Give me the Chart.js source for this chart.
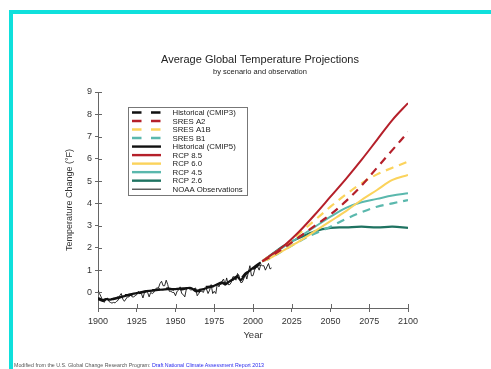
<!DOCTYPE html>
<html><head><meta charset="utf-8">
<script src="https://cdn.jsdelivr.net/npm/chart.js@4/dist/chart.umd.min.js"></script>
<style>
html,body{margin:0;padding:0;background:#fff;width:491px;height:369px;overflow:hidden}
#frame{position:absolute;left:9px;top:10px;width:490px;height:370px;border-top:4px solid #0fe0dc;border-left:4px solid #0fe0dc;box-sizing:border-box}
#wrap{position:absolute;left:0;top:0;width:491px;height:369px}
#note{position:absolute;left:14px;top:362px;font:8px 'Liberation Sans',Arial,sans-serif;color:#555;white-space:nowrap;transform:scale(0.66);transform-origin:left top}
#note span{color:#2a2aee}
</style></head>
<body>
<div id="frame"></div>
<div id="wrap"><canvas id="c" width="491" height="369"></canvas></div>
<div id="note">Modified from the U.S. Global Change Research Program: <span>Draft National Climate Assessment Report 2013</span></div>
<script>
// ---- data ----
const titleText = 'Average Global Temperature Projections';
const subtitleText = 'by scenario and observation';
const histYears = [1900,1903,1905,1908,1910,1913,1915,1918,1920,1925,1930,1935,1940,1945,1950,1955,1960,1963,1965,1968,1970,1975,1980,1982,1985,1990,1992,1995,2000,2005];
const cmip5Hist = [-0.25,-0.35,-0.3,-0.32,-0.28,-0.25,-0.2,-0.15,-0.1,-0.03,0.05,0.08,0.12,0.15,0.15,0.18,0.2,0.05,0.1,0.15,0.2,0.3,0.45,0.35,0.5,0.7,0.55,0.8,1.1,1.35];
const cmip3Hist = [-0.3,-0.38,-0.33,-0.3,-0.3,-0.22,-0.18,-0.12,-0.12,-0.05,0.02,0.1,0.14,0.18,0.12,0.15,0.22,0.1,0.05,0.18,0.25,0.28,0.42,0.4,0.45,0.75,0.6,0.85,1.05,1.3];
const noaaStart = 1900;
const noaaObs = [0.1,-0.05,-0.2,-0.35,-0.45,-0.3,-0.25,-0.4,-0.45,-0.48,-0.45,-0.47,-0.4,-0.35,-0.15,-0.05,-0.3,-0.4,-0.3,-0.2,
 -0.2,-0.1,-0.2,-0.2,-0.15,-0.1,0.05,-0.05,-0.05,-0.25,0.0,0.05,0.0,-0.2,0.0,-0.05,0.0,0.15,0.2,0.2,
 0.4,0.5,0.3,0.3,0.55,0.35,0.05,0.05,0.0,0.0,-0.15,0.05,0.1,0.25,-0.05,-0.1,-0.2,0.15,0.2,0.15,
 0.1,0.15,0.15,0.2,-0.15,-0.05,0.05,0.05,0.0,0.2,0.15,-0.05,0.1,0.35,-0.05,0.05,-0.05,0.4,0.25,0.4,
 0.5,0.6,0.35,0.65,0.35,0.35,0.45,0.7,0.7,0.55,0.85,0.75,0.45,0.45,0.6,0.85,0.6,0.9,1.2,0.75,
 0.75,1.0,1.15,1.15,1.0,1.25,1.2,1.2,1.0,1.15,1.3,1.05,1.1];
const projYears = [2006,2010,2020,2030,2040,2050,2060,2070,2080,2090,2100];
const sresA2  = [1.4,1.55,2.0,2.5,3.0,3.5,4.1,4.8,5.6,6.4,7.2];
const sresA1B = [1.4,1.6,2.05,2.65,3.25,3.85,4.4,4.9,5.3,5.6,5.87];
const sresB1  = [1.4,1.5,1.9,2.3,2.65,2.95,3.3,3.6,3.85,4.0,4.15];
const rcp85   = [1.4,1.6,2.1,2.75,3.5,4.3,5.1,5.95,6.85,7.75,8.5];
const rcp60   = [1.4,1.5,1.9,2.3,2.75,3.2,3.65,4.15,4.6,5.05,5.27];
const rcp45   = [1.4,1.6,2.05,2.5,2.95,3.4,3.8,4.05,4.2,4.35,4.45];
const rcp26   = [1.4,1.6,2.1,2.45,2.75,2.9,2.92,2.95,2.92,2.95,2.9];
const xTicks = [1900,1925,1950,1975,2000,2025,2050,2075,2100];
const yTicks = [0,1,2,3,4,5,6,7,8,9];

const RED='#b5202a', YEL='#fbd35c', TEAL='#5ab8ad', DTEAL='#1f7361', BLK='#111';
const pts = (xs,ys)=>ys.map((v,i)=>({x:xs[i],y:v}));
const noaaPts = noaaObs.map((v,i)=>({x:noaaStart+i,y:v}));

const DASH=[8,6];
const datasets = [
 {label:'RCP 8.5', data:pts(projYears,rcp85), borderColor:RED, borderWidth:2, tension:0.35},
 {label:'SRES A2', data:pts(projYears,sresA2), borderColor:RED, borderWidth:2.2, borderDash:DASH, tension:0.35},
 {label:'SRES A1B', data:pts(projYears,sresA1B), borderColor:YEL, borderWidth:2.2, borderDash:DASH, tension:0.35},
 {label:'RCP 6.0', data:pts(projYears,rcp60), borderColor:YEL, borderWidth:2, tension:0.35},
 {label:'RCP 4.5', data:pts(projYears,rcp45), borderColor:TEAL, borderWidth:2, tension:0.35},
 {label:'SRES B1', data:pts(projYears,sresB1), borderColor:TEAL, borderWidth:2.2, borderDash:DASH, tension:0.35},
 {label:'RCP 2.6', data:pts(projYears,rcp26), borderColor:DTEAL, borderWidth:2.2, tension:0.35},
 {label:'NOAA Observations', data:noaaPts, borderColor:BLK, borderWidth:0.9, tension:0},
 {label:'Historical (CMIP5)', data:pts(histYears,cmip5Hist), borderColor:BLK, borderWidth:2.2, tension:0.2},
 {label:'Historical (CMIP3)', data:pts(histYears,cmip3Hist), borderColor:BLK, borderWidth:2.2, borderDash:DASH, tension:0.2},
];
datasets.forEach(d=>{d.pointRadius=0;d.fill=false;d.backgroundColor=d.borderColor;});

const legendOrder = ['Historical (CMIP3)','SRES A2','SRES A1B','SRES B1','Historical (CMIP5)','RCP 8.5','RCP 6.0','RCP 4.5','RCP 2.6','NOAA Observations'];

const FONT="'Liberation Sans', Arial, sans-serif";
const titles = {id:'titles', afterDraw(chart){
  const ctx=chart.ctx; ctx.save();
  ctx.fillStyle='#222'; ctx.textAlign='center'; ctx.textBaseline='middle';
  ctx.font='11px '+FONT; ctx.fillText(titleText,260,60);
  ctx.font='7.5px '+FONT; ctx.fillText(subtitleText,260,72);
  ctx.restore();
}};
const boxLegend = {id:'boxLegend', afterDatasetsDraw(chart){
  const ctx=chart.ctx; const x0=128, y0=107, w=119, h=88, row=8.52, first=112.5;
  ctx.save();
  ctx.fillStyle='#fff'; ctx.fillRect(x0,y0,w,h);
  ctx.strokeStyle='#777'; ctx.lineWidth=1; ctx.strokeRect(x0+0.5,y0+0.5,w,h);
  ctx.font='7.8px '+FONT; ctx.textBaseline='middle'; ctx.textAlign='left';
  legendOrder.forEach((lab,i)=>{
    const d=chart.data.datasets.find(s=>s.label===lab);
    const y=first+i*row;
    ctx.strokeStyle=d.borderColor; ctx.lineWidth=d.borderWidth<1?1:2.4;
    ctx.setLineDash(d.borderDash?[9.5,9.5]:[]);
    ctx.beginPath(); ctx.moveTo(132,y); ctx.lineTo(161,y); ctx.stroke();
    ctx.setLineDash([]);
    ctx.fillStyle='#222'; ctx.fillText(lab,172.5,y+0.5);
  });
  ctx.restore();
}};
const innerTicks = {id:'innerTicks', afterDraw(chart){
  const ctx=chart.ctx, xs=chart.scales.x, ys=chart.scales.y;
  ctx.save(); ctx.strokeStyle='#666'; ctx.lineWidth=1;
  xs.ticks.forEach(t=>{const p=Math.round(xs.getPixelForValue(t.value))+0.5;ctx.beginPath();ctx.moveTo(p,ys.bottom);ctx.lineTo(p,ys.bottom-4);ctx.stroke();});
  ys.ticks.forEach(t=>{const p=Math.round(ys.getPixelForValue(t.value))+0.5;ctx.beginPath();ctx.moveTo(xs.left,p);ctx.lineTo(xs.left+4,p);ctx.stroke();});
  ctx.restore();
}};

new Chart(document.getElementById('c'),{
  type:'line',
  data:{datasets},
  plugins:[boxLegend,innerTicks,titles],
  options:{
    responsive:false, animation:false, devicePixelRatio:1,
    layout:{padding:{left:60,right:83,top:92,bottom:26}},
    plugins:{legend:{display:false}, tooltip:{enabled:false}, title:{display:false}, subtitle:{display:false}},
    scales:{
      x:{type:'linear',min:1900,max:2100,
        afterBuildTicks:s=>{s.ticks=xTicks.map(v=>({value:v}));},
        afterFit:s=>{s.height=35;},
        ticks:{callback:v=>String(v),color:'#333',font:{family:FONT,size:9},padding:4,maxRotation:0,autoSkip:false},
        grid:{display:true,drawOnChartArea:false,drawTicks:true,tickLength:4,color:'#666'},
        border:{display:true,color:'#666'},
        title:{display:true,text:'Year',color:'#333',font:{family:FONT,size:9.5},padding:{top:0,bottom:2}}},
      y:{type:'linear',min:-0.7,max:9,
        afterBuildTicks:s=>{s.ticks=yTicks.map(v=>({value:v}));},
        afterFit:s=>{s.width=38;},
        ticks:{callback:v=>String(v),color:'#333',font:{family:FONT,size:9},padding:3,autoSkip:false},
        grid:{display:true,drawOnChartArea:false,drawTicks:true,tickLength:3,color:'#666'},
        border:{display:true,color:'#666'},
        title:{display:true,text:'Temperature Change (°F)',color:'#333',font:{family:FONT,size:9},padding:{top:4,bottom:0}}}
    }
  }
});
</script>
</body></html>
